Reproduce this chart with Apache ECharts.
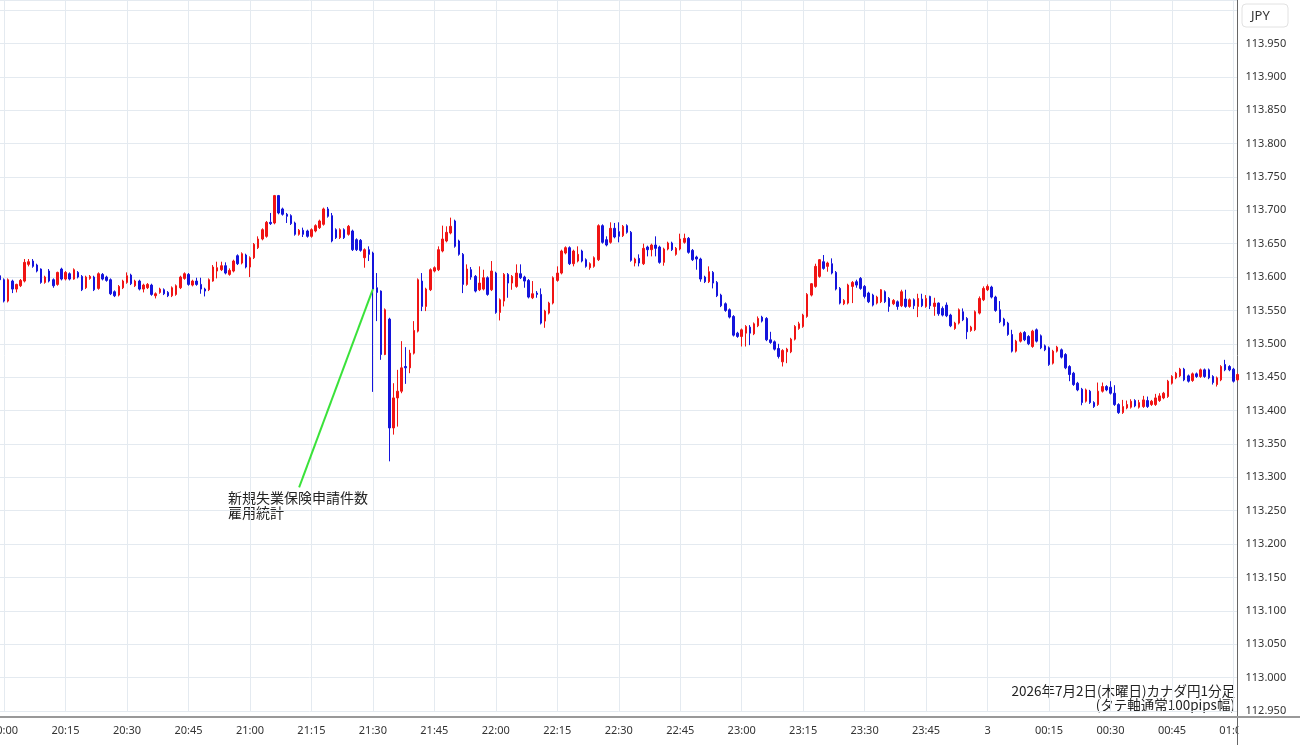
<!DOCTYPE html>
<html>
<head>
<meta charset="utf-8">
<title>カナダ円1分足</title>
<script src="https://cdn.jsdelivr.net/npm/echarts@6/dist/echarts.min.js"></script>
<style>
  html, body { margin: 0; padding: 0; background: #fff; }
  #chart { width: 1300px; height: 745px; }
</style>
</head>
<body>
<div id="chart"></div>
<script>
// 時刻 (1分足, 19:59 〜 翌01:01)
const times = [
  '19:59',
  '20:00','20:01','20:02','20:03','20:04','20:05','20:06','20:07','20:08','20:09',
  '20:10','20:11','20:12','20:13','20:14','20:15','20:16','20:17','20:18','20:19',
  '20:20','20:21','20:22','20:23','20:24','20:25','20:26','20:27','20:28','20:29',
  '20:30','20:31','20:32','20:33','20:34','20:35','20:36','20:37','20:38','20:39',
  '20:40','20:41','20:42','20:43','20:44','20:45','20:46','20:47','20:48','20:49',
  '20:50','20:51','20:52','20:53','20:54','20:55','20:56','20:57','20:58','20:59',
  '21:00','21:01','21:02','21:03','21:04','21:05','21:06','21:07','21:08','21:09',
  '21:10','21:11','21:12','21:13','21:14','21:15','21:16','21:17','21:18','21:19',
  '21:20','21:21','21:22','21:23','21:24','21:25','21:26','21:27','21:28','21:29',
  '21:30','21:31','21:32','21:33','21:34','21:35','21:36','21:37','21:38','21:39',
  '21:40','21:41','21:42','21:43','21:44','21:45','21:46','21:47','21:48','21:49',
  '21:50','21:51','21:52','21:53','21:54','21:55','21:56','21:57','21:58','21:59',
  '22:00','22:01','22:02','22:03','22:04','22:05','22:06','22:07','22:08','22:09',
  '22:10','22:11','22:12','22:13','22:14','22:15','22:16','22:17','22:18','22:19',
  '22:20','22:21','22:22','22:23','22:24','22:25','22:26','22:27','22:28','22:29',
  '22:30','22:31','22:32','22:33','22:34','22:35','22:36','22:37','22:38','22:39',
  '22:40','22:41','22:42','22:43','22:44','22:45','22:46','22:47','22:48','22:49',
  '22:50','22:51','22:52','22:53','22:54','22:55','22:56','22:57','22:58','22:59',
  '23:00','23:01','23:02','23:03','23:04','23:05','23:06','23:07','23:08','23:09',
  '23:10','23:11','23:12','23:13','23:14','23:15','23:16','23:17','23:18','23:19',
  '23:20','23:21','23:22','23:23','23:24','23:25','23:26','23:27','23:28','23:29',
  '23:30','23:31','23:32','23:33','23:34','23:35','23:36','23:37','23:38','23:39',
  '23:40','23:41','23:42','23:43','23:44','23:45','23:46','23:47','23:48','23:49',
  '23:50','23:51','23:52','23:53','23:54','23:55','23:56','23:57','23:58','23:59',
  '00:00','00:01','00:02','00:03','00:04','00:05','00:06','00:07','00:08','00:09',
  '00:10','00:11','00:12','00:13','00:14','00:15','00:16','00:17','00:18','00:19',
  '00:20','00:21','00:22','00:23','00:24','00:25','00:26','00:27','00:28','00:29',
  '00:30','00:31','00:32','00:33','00:34','00:35','00:36','00:37','00:38','00:39',
  '00:40','00:41','00:42','00:43','00:44','00:45','00:46','00:47','00:48','00:49',
  '00:50','00:51','00:52','00:53','00:54','00:55','00:56','00:57','00:58','00:59',
  '01:00','01:01'
]

// [始値, 終値, 安値, 高値]
const ohlc = [
  [113.602,113.596,113.590,113.604],
  // 20:00
  [113.596,113.564,113.562,113.598],[113.564,113.596,113.562,113.598],[113.594,113.582,113.576,113.596],[113.582,113.589,113.577,113.590],[113.587,113.595,113.585,113.597],
  [113.594,113.622,113.592,113.627],[113.619,113.623,113.616,113.627],[113.624,113.616,113.614,113.627],[113.618,113.609,113.607,113.620],[113.612,113.592,113.590,113.613],
  [113.592,113.600,113.590,113.602],[113.609,113.594,113.592,113.612],[113.596,113.587,113.584,113.598],[113.589,113.607,113.587,113.608],[113.612,113.597,113.595,113.614],
  [113.597,113.607,113.595,113.609],[113.605,113.597,113.595,113.607],[113.597,113.611,113.596,113.613],[113.607,113.600,113.598,113.609],[113.601,113.581,113.579,113.603],
  [113.584,113.600,113.582,113.602],[113.598,113.601,113.596,113.603],[113.600,113.581,113.579,113.602],[113.583,113.605,113.581,113.607],[113.604,113.597,113.595,113.606],
  [113.600,113.595,113.593,113.602],[113.596,113.575,113.573,113.598],[113.578,113.572,113.570,113.580],[113.573,113.586,113.571,113.588],[113.584,113.594,113.582,113.596],
  // 20:30
  [113.592,113.602,113.590,113.607],[113.603,113.590,113.588,113.605],[113.587,113.594,113.585,113.596],[113.594,113.582,113.580,113.596],[113.582,113.588,113.577,113.590],
  [113.584,113.589,113.582,113.591],[113.588,113.574,113.572,113.590],[113.572,113.575,113.568,113.577],[113.577,113.582,113.575,113.584],[113.581,113.575,113.573,113.583],
  [113.577,113.572,113.570,113.579],[113.572,113.584,113.570,113.586],[113.574,113.587,113.572,113.589],[113.584,113.600,113.582,113.602],[113.598,113.605,113.596,113.607],
  [113.604,113.589,113.587,113.606],[113.588,113.594,113.586,113.596],[113.594,113.589,113.587,113.599],[113.589,113.582,113.575,113.599],[113.582,113.579,113.571,113.584],
  [113.581,113.596,113.579,113.598],[113.594,113.615,113.593,113.618],[113.609,113.614,113.598,113.623],[113.611,113.617,113.609,113.623],[113.617,113.606,113.604,113.622],
  [113.604,113.610,113.602,113.613],[113.609,113.624,113.607,113.626],[113.632,113.620,113.618,113.634],[113.621,113.635,113.619,113.637],[113.633,113.615,113.613,113.635],
  // 21:00
  [113.615,113.629,113.600,113.631],[113.629,113.649,113.627,113.651],[113.644,113.657,113.642,113.661],[113.657,113.671,113.655,113.673],[113.661,113.682,113.659,113.684],
  [113.682,113.680,113.678,113.696],[113.681,113.722,113.679,113.723],[113.722,113.696,113.694,113.723],[113.702,113.694,113.692,113.704],[113.694,113.691,113.681,113.696],
  [113.692,113.680,113.678,113.694],[113.681,113.664,113.662,113.683],[113.664,113.670,113.662,113.672],[113.670,113.664,113.660,113.674],[113.669,113.661,113.659,113.671],
  [113.661,113.671,113.659,113.673],[113.669,113.677,113.667,113.679],[113.674,113.684,113.672,113.686],[113.679,113.702,113.677,113.704],[113.702,113.691,113.689,113.705],
  [113.692,113.654,113.652,113.696],[113.671,113.659,113.657,113.673],[113.659,113.671,113.657,113.673],[113.671,113.659,113.657,113.673],[113.664,113.676,113.662,113.678],
  [113.669,113.641,113.639,113.671],[113.656,113.641,113.639,113.658],[113.655,113.640,113.638,113.657],[113.629,113.641,113.614,113.643],[113.641,113.634,113.624,113.646],
  // 21:30
  [113.636,113.582,113.428,113.638],[113.584,113.577,113.534,113.606],[113.579,113.484,113.476,113.580],[113.484,113.551,113.483,113.553],[113.537,113.374,113.324,113.539],
  [113.374,113.419,113.364,113.441],[113.419,113.429,113.376,113.461],[113.429,113.464,113.426,113.504],[113.466,113.464,113.440,113.495],[113.464,113.486,113.456,113.491],
  [113.486,113.520,113.484,113.534],[113.519,113.596,113.517,113.598],[113.594,113.556,113.549,113.606],[113.556,113.582,113.549,113.584],[113.581,113.611,113.579,113.613],
  [113.609,113.614,113.607,113.616],[113.611,113.641,113.609,113.646],[113.639,113.657,113.637,113.677],[113.654,113.667,113.652,113.676],[113.666,113.676,113.664,113.689],
  [113.684,113.646,113.644,113.686],[113.654,113.634,113.632,113.656],[113.634,113.589,113.576,113.636],[113.589,113.612,113.587,113.619],[113.611,113.600,113.596,113.615],
  [113.601,113.579,113.577,113.603],[113.581,113.591,113.579,113.616],[113.582,113.599,113.580,113.611],[113.599,113.574,113.572,113.601],[113.581,113.609,113.579,113.624],
  // 22:00
  [113.606,113.547,113.545,113.608],[113.547,113.566,113.535,113.568],[113.564,113.604,113.556,113.606],[113.604,113.591,113.569,113.606],[113.591,113.601,113.581,113.603],
  [113.586,113.606,113.584,113.619],[113.605,113.599,113.597,113.619],[113.600,113.594,113.584,113.602],[113.595,113.570,113.568,113.597],[113.569,113.575,113.567,113.594],
  [113.576,113.574,113.569,113.579],[113.574,113.531,113.529,113.583],[113.534,113.549,113.524,113.551],[113.546,113.561,113.544,113.563],[113.561,113.599,113.559,113.601],
  [113.595,113.606,113.593,113.616],[113.606,113.639,113.604,113.641],[113.636,113.644,113.634,113.646],[113.644,113.620,113.618,113.646],[113.620,113.639,113.616,113.641],
  [113.624,113.634,113.622,113.646],[113.639,113.624,113.622,113.641],[113.626,113.616,113.614,113.628],[113.614,113.620,113.611,113.622],[113.616,113.629,113.614,113.631],
  [113.626,113.677,113.624,113.679],[113.677,113.652,113.650,113.679],[113.656,113.648,113.646,113.661],[113.652,113.673,113.650,113.682],[113.673,113.660,113.658,113.681],
  // 22:30
  [113.668,113.661,113.652,113.682],[113.662,113.676,113.660,113.678],[113.677,113.667,113.665,113.679],[113.667,113.625,113.623,113.669],[113.621,113.627,113.616,113.629],
  [113.628,113.621,113.616,113.634],[113.620,113.643,113.618,113.650],[113.645,113.641,113.631,113.647],[113.641,113.648,113.631,113.650],[113.648,113.643,113.631,113.661],
  [113.645,113.622,113.620,113.647],[113.622,113.642,113.617,113.644],[113.642,113.651,113.640,113.653],[113.651,113.641,113.639,113.653],[113.634,113.643,113.632,113.645],
  [113.642,113.657,113.640,113.665],[113.652,113.658,113.650,113.665],[113.658,113.637,113.635,113.660],[113.640,113.626,113.624,113.642],[113.630,113.627,113.611,113.632],
  [113.627,113.597,113.593,113.629],[113.600,113.593,113.591,113.602],[113.593,113.608,113.591,113.616],[113.607,113.591,113.583,113.609],[113.592,113.572,113.570,113.594],
  [113.573,113.557,113.555,113.575],[113.560,113.550,113.548,113.562],[113.551,113.540,113.538,113.553],[113.541,113.513,113.511,113.543],[113.516,113.511,113.509,113.518],
  // 23:00
  [113.511,113.521,113.496,113.523],[113.516,113.526,113.496,113.528],[113.525,113.516,113.498,113.528],[113.515,113.530,113.513,113.532],[113.527,113.538,113.525,113.541],
  [113.540,113.534,113.532,113.542],[113.538,113.506,113.504,113.540],[113.506,113.502,113.500,113.518],[113.503,113.492,113.490,113.505],[113.493,113.481,113.478,113.500],
  [113.473,113.490,113.466,113.492],[113.488,113.492,113.471,113.494],[113.488,113.507,113.486,113.509],[113.507,113.526,113.505,113.528],[113.523,113.530,113.521,113.533],
  [113.526,113.543,113.524,113.545],[113.541,113.574,113.539,113.576],[113.573,113.590,113.571,113.591],[113.586,113.616,113.584,113.620],[113.601,113.626,113.599,113.627],
  [113.623,113.613,113.611,113.633],[113.616,113.621,113.608,113.623],[113.620,113.606,113.604,113.628],[113.607,113.582,113.580,113.609],[113.583,113.561,113.559,113.585],
  [113.560,113.565,113.558,113.567],[113.561,113.588,113.559,113.590],[113.586,113.592,113.561,113.594],[113.593,113.588,113.584,113.596],[113.598,113.583,113.581,113.600],
  // 23:30
  [113.586,113.571,113.568,113.588],[113.576,113.563,113.561,113.578],[113.573,113.558,113.556,113.575],[113.561,113.570,113.559,113.572],[113.563,113.581,113.561,113.582],
  [113.578,113.563,113.561,113.580],[113.568,113.556,113.548,113.570],[113.560,113.565,113.558,113.567],[113.563,113.556,113.551,113.565],[113.557,113.578,113.555,113.581],
  [113.567,113.556,113.554,113.581],[113.556,113.566,113.554,113.568],[113.566,113.557,113.552,113.568],[113.556,113.568,113.540,113.575],[113.567,113.557,113.555,113.575],
  [113.556,113.568,113.554,113.573],[113.571,113.557,113.552,113.572],[113.556,113.561,113.542,113.569],[113.561,113.545,113.542,113.562],[113.553,113.543,113.541,113.556],
  [113.558,113.542,113.540,113.562],[113.543,113.527,113.525,113.545],[113.523,113.531,113.521,113.533],[113.531,113.551,113.529,113.553],[113.548,113.536,113.534,113.553],
  [113.538,113.518,113.507,113.540],[113.520,113.525,113.518,113.527],[113.521,113.548,113.519,113.550],[113.546,113.568,113.544,113.571],[113.566,113.583,113.564,113.586],
  // 00:00
  [113.581,113.586,113.579,113.589],[113.585,113.570,113.568,113.587],[113.570,113.550,113.548,113.572],[113.551,113.533,113.531,113.564],[113.537,113.528,113.526,113.539],
  [113.531,113.514,113.512,113.533],[113.514,113.489,113.487,113.521],[113.489,113.504,113.487,113.506],[113.504,113.516,113.502,113.518],[113.517,113.506,113.504,113.519],
  [113.511,113.500,113.498,113.513],[113.496,113.519,113.494,113.521],[113.521,113.504,113.502,113.523],[113.512,113.494,113.492,113.514],[113.497,113.491,113.489,113.499],
  [113.494,113.469,113.467,113.496],[113.471,113.489,113.469,113.491],[113.489,113.495,113.487,113.497],[113.491,113.480,113.478,113.493],[113.484,113.464,113.462,113.486],
  [113.466,113.454,113.444,113.468],[113.456,113.439,113.437,113.458],[113.441,113.431,113.429,113.443],[113.432,113.412,113.408,113.434],[113.414,113.431,113.412,113.433],
  [113.429,113.412,113.410,113.431],[113.412,113.406,113.404,113.414],[113.409,113.429,113.407,113.442],[113.429,113.436,113.427,113.442],[113.436,113.431,113.429,113.438],
  // 00:30
  [113.435,113.426,113.424,113.444],[113.426,113.409,113.407,113.438],[113.409,113.397,113.395,113.411],[113.397,113.406,113.395,113.416],[113.404,113.409,113.402,113.415],
  [113.405,113.414,113.403,113.417],[113.415,113.407,113.405,113.417],[113.405,113.412,113.403,113.416],[113.406,113.416,113.404,113.422],[113.415,113.406,113.404,113.421],
  [113.409,113.414,113.407,113.416],[113.409,113.419,113.407,113.425],[113.415,113.422,113.413,113.426],[113.419,113.426,113.417,113.428],[113.421,113.444,113.419,113.446],
  [113.441,113.451,113.439,113.453],[113.449,113.456,113.447,113.458],[113.452,113.462,113.450,113.464],[113.462,113.446,113.444,113.464],[113.452,113.444,113.442,113.454],
  [113.445,113.455,113.443,113.457],[113.455,113.451,113.449,113.457],[113.451,113.461,113.449,113.463],[113.461,113.451,113.449,113.463],[113.461,113.449,113.447,113.463],
  [113.451,113.442,113.439,113.453],[113.439,113.449,113.436,113.451],[113.446,113.466,113.444,113.468],[113.469,113.461,113.459,113.476],[113.466,113.461,113.459,113.468],
  // 01:00
  [113.462,113.444,113.442,113.464],[113.446,113.454,113.444,113.456]
]

// 目盛り
const xTicks = ['20:00','20:15','20:30','20:45','21:00','21:15','21:30','21:45','22:00','22:15','22:30','22:45',
  '23:00','23:15','23:30','23:45','00:00','00:15','00:30','00:45','01:00']
const xTickLabels = ['20:00','20:15','20:30','20:45','21:00','21:15','21:30','21:45','22:00','22:15','22:30','22:45',
  '23:00','23:15','23:30','23:45','3','00:15','00:30','00:45','01:00']
const yMin = 112.95
const yMax = 114.015
const yStep = 0.05
const yLabelTop = 113.95

// 指標発表
const eventStart = ['21:30', 113.582]
const eventEnd = ['21:12', 113.285]
const eventLabel = ['新規失業保険申請件数', '雇用統計']
const titleLines = ['2026年7月2日(木曜日)カナダ円1分足', '(タテ軸通常100pips幅)']

const upColor = '#f01414'
const downColor = '#1414dc'
const gridColor = '#e4eaf0'
const jpFont = '"Noto Sans CJK JP", "Noto Sans", sans-serif'

const isTick = (i, v) => xTicks.includes(v)

const chart = echarts.init(document.getElementById('chart'), null, { renderer: 'canvas' })

const option = {
  animation: false,
  backgroundColor: '#fff',
  textStyle: { fontFamily: '"Noto Sans", sans-serif' },
  grid: { left: 0, right: 62.5, top: 0, bottom: 34, containLabel: false, outerBoundsMode: 'none' },
  xAxis: {
    type: 'category',
    data: times,
    boundaryGap: false,
    offset: 6,
    axisLine: { lineStyle: { color: '#999', width: 2 } },
    axisTick: { show: false, interval: isTick },
    axisLabel: {
      interval: isTick,
      formatter: v => xTickLabels[xTicks.indexOf(v)],
      color: '#333',
      fontSize: 11,
      margin: 8
    },
    splitLine: { show: true, interval: isTick, lineStyle: { color: gridColor, width: 1 } }
  },
  yAxis: {
    type: 'value',
    position: 'right',
    min: yMin,
    max: yMax,
    interval: yStep,
    axisLine: { show: true, lineStyle: { color: '#666', width: 1 } },
    axisTick: { show: false },
    axisLabel: {
      color: '#333',
      fontSize: 11,
      margin: 8,
      showMaxLabel: false,
      formatter: v => (v > yLabelTop + 0.001 ? '' : v.toFixed(3))
    },
    splitLine: { show: true, lineStyle: { color: gridColor, width: 1 } }
  },
  series: [
    {
      type: 'candlestick',
      data: ohlc,
      barWidth: 2,
      clip: true,
      itemStyle: {
        color: upColor,
        color0: downColor,
        borderColor: upColor,
        borderColor0: downColor,
        borderWidth: 1
      },
      markLine: {
        silent: true,
        symbol: ['none', 'none'],
        label: { show: false },
        lineStyle: { color: '#3ae23a', width: 2, type: 'solid' },
        emphasis: { disabled: true },
        data: [[{ coord: eventStart }, { coord: eventEnd }]]
      }
    }
  ],
  graphic: [
    // 通貨ボックス
    {
      type: 'rect',
      shape: { x: 1242, y: 4, width: 46, height: 23, r: 4 },
      style: { fill: '#fff', stroke: '#e2e2e2', lineWidth: 1 }
    },
    {
      type: 'text',
      x: 1251, y: 16,
      style: { text: 'JPY', font: '13px "Noto Sans", sans-serif', fill: '#333', verticalAlign: 'middle', textVerticalAlign: 'middle' }
    },
    // 指標ラベル
    {
      type: 'text',
      x: 228, y: 490,
      style: { text: eventLabel.join('\n'), font: '14px ' + jpFont, fill: '#222', lineHeight: 15, verticalAlign: 'top', textVerticalAlign: 'top' }
    },
    // 右下の説明
    {
      type: 'text',
      x: 1235, y: 684,
      style: {
        text: titleLines.join('\n'), font: '13.5px ' + jpFont, fill: '#222', lineHeight: 14,
        align: 'right', textAlign: 'right', verticalAlign: 'top', textVerticalAlign: 'top'
      }
    },
    // 右端ではみ出す時刻ラベルを隠す
    {
      type: 'rect', z: 100,
      shape: { x: 1238.5, y: 719, width: 62, height: 26 },
      style: { fill: '#fff' }
    },
    {
      type: 'line', z: 101,
      shape: { x1: 1237.5, y1: 711, x2: 1237.5, y2: 745 },
      style: { stroke: '#666', lineWidth: 1 }
    },
    {
      type: 'line', z: 101,
      shape: { x1: 1237, y1: 717, x2: 1300, y2: 717 },
      style: { stroke: '#999', lineWidth: 2 }
    }
  ]
}

chart.setOption(option)
</script>
</body>
</html>
